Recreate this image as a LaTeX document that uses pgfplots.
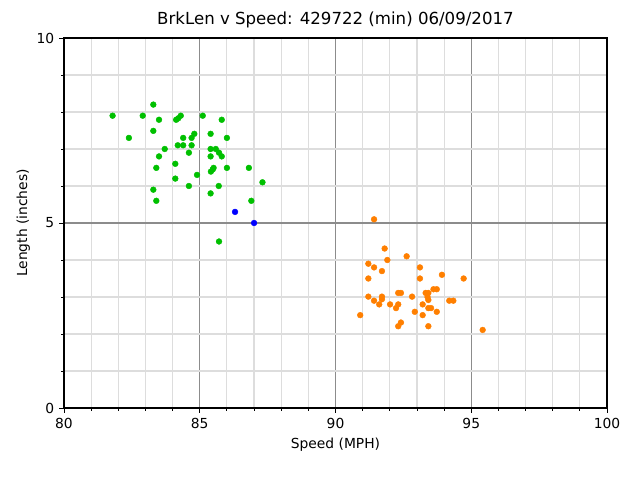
\documentclass[border=0pt]{standalone}
\usepackage{pgfplots}
\pgfplotsset{compat=1.18}
\usepackage{fontspec}
\setmainfont{DejaVu Sans}
\definecolor{ptgreen}{RGB}{0,192,0}
\definecolor{ptorange}{RGB}{255,127,0}
\definecolor{ptblue}{RGB}{0,0,255}
\definecolor{majgrid}{RGB}{140,140,140}
\definecolor{mingrid}{RGB}{221,221,221}
\begin{document}
\begin{tikzpicture}
\useasboundingbox (-0.64in,-0.72in) rectangle (5.76in,4.08in);
\begin{axis}[
  at={(0,0)}, anchor=south west,
  scale only axis, width=5.43in, height=3.7in,
  xmin=80, xmax=100, ymin=0, ymax=10,
  xtick={80,85,90,95,100}, ytick={0,5,10},
  minor xtick={81,82,83,84,86,87,88,89,91,92,93,94,96,97,98,99},
  minor ytick={1,2,3,4,6,7,8,9},
  grid=both,
  major grid style={color=majgrid, line width=0.8pt},
  minor grid style={color=mingrid, line width=0.8pt},
  tick align=outside, tick pos=left,
  major tick length=3.5pt, minor tick length=2pt,
  tick style={black, line width=0.6pt},
  axis line style={black, line width=0.8pt},
  /pgf/number format/assume math mode=true,
  ticklabel style={font=\fontsize{10}{12}\selectfont},
  xlabel={Speed (MPH)}, ylabel={Length (inches)},
  label style={font=\fontsize{10}{12}\selectfont},
  ylabel style={yshift=-2pt},
  title={BrkLen v Speed: 429722 (min) 06/09/2017},
  title style={font=\fontsize{12}{14}\selectfont, yshift=-2pt},
]
\addplot[only marks, mark=*, mark size=2.1pt, mark options={draw=ptgreen, fill=ptgreen, line width=0.3pt}] coordinates {
(83.29,8.20) (81.79,7.90) (82.90,7.90) (83.50,7.79) (84.13,7.79) (84.21,7.83)
(84.30,7.90) (85.11,7.90) (85.81,7.79) (83.29,7.49) (82.39,7.30) (84.39,7.30)
(84.70,7.30) (84.80,7.41) (85.40,7.41) (86.00,7.30) (84.19,7.10) (84.39,7.10)
(84.70,7.10) (83.71,7.00) (84.60,6.90) (85.40,7.00) (85.59,7.00) (85.71,6.90)
(85.81,6.80) (85.40,6.80) (83.50,6.80) (83.40,6.49) (84.10,6.60) (84.90,6.30)
(84.10,6.20) (85.41,6.39) (85.48,6.45) (85.51,6.49) (86.00,6.49) (86.81,6.49)
(87.31,6.10) (84.60,6.00) (85.70,6.00) (83.29,5.90) (85.40,5.80) (83.40,5.60)
(86.90,5.60) (85.71,4.50)
};
\addplot[only marks, mark=*, mark size=2.1pt, mark options={draw=ptblue, fill=ptblue, line width=0.3pt}] coordinates {
(86.30,5.30) (87.00,5.00)
};
\addplot[only marks, mark=*, mark size=2.1pt, mark options={draw=ptorange, fill=ptorange, line width=0.3pt}] coordinates {
(91.42,5.10) (91.81,4.31) (92.62,4.10) (91.91,4.00) (91.21,3.90) (91.42,3.80)
(93.11,3.80) (91.71,3.70) (93.92,3.60) (91.21,3.50) (93.11,3.50) (94.72,3.50)
(92.31,3.11) (92.41,3.11) (93.32,3.11) (93.42,3.11) (93.61,3.21) (93.73,3.21)
(91.21,3.01) (91.71,3.01) (91.71,2.94) (92.82,3.01) (91.42,2.90) (91.61,2.80)
(92.01,2.80) (92.31,2.80) (92.23,2.70) (93.21,2.80) (93.42,2.92) (93.39,3.00)
(94.19,2.90) (94.34,2.90) (93.42,2.70) (93.52,2.70) (93.73,2.60) (92.92,2.60)
(93.21,2.51) (90.91,2.51) (92.41,2.31) (92.31,2.21) (93.42,2.21) (95.42,2.11)
};
\end{axis}
\end{tikzpicture}
\end{document}
